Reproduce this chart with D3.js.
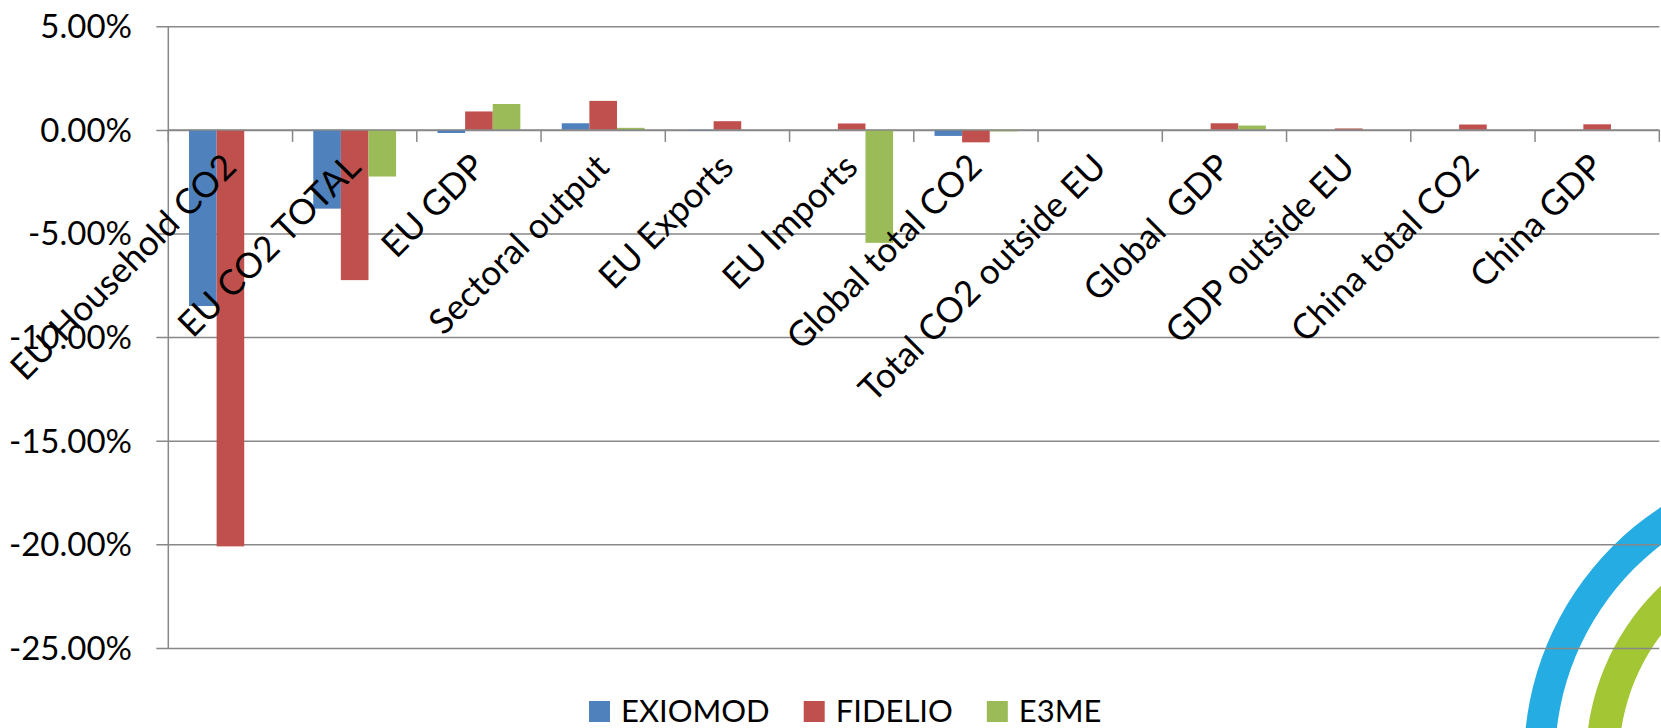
<!DOCTYPE html>
<html>
<head>
<meta charset="utf-8">
<script src="https://cdn.jsdelivr.net/npm/d3@7"></script>
<style>
  html, body { margin: 0; padding: 0; background: #fff; }
  svg { display: block; }
  text { font-family: Lato, "Open Sans", sans-serif; fill: #000; }
</style>
</head>
<body>
<svg id="chart" width="1661" height="728"></svg>
<script>
// Percentage change by indicator for each model
const categories = [
  "EU Household CO2", "EU CO2 TOTAL", "EU GDP", "Sectoral output",
  "EU Exports", "EU Imports", "Global total CO2", "Total CO2 outside EU",
  "Global  GDP", "GDP outside EU", "China total CO2", "China GDP"
];
const seriesNames = ["EXIOMOD", "FIDELIO", "E3ME"];
const exiomod = [-8.5, -3.8, -0.15, 0.32, -0.05, 0, -0.29, 0, 0, 0, 0, 0];
const fidelio = [-20.1, -7.25, 0.89, 1.4, 0.42, 0.31, -0.6, 0, 0.32, 0.07, 0.26, 0.27];
const e3me    = [0, -2.25, 1.25, 0.1, 0, -5.45, -0.07, 0, 0.21, 0, 0, 0];
const yTicks = [5, 0, -5, -10, -15, -20, -25];
const seriesColors = ["#4F81BD", "#C0504D", "#9BBB59"];

const seriesValues = [exiomod, fidelio, e3me];

const svg = d3.select("#chart");
const plotLeft = 168.3, plotRight = 1659.3, plotTop = 26.3, plotBottom = 647.9;
const gridColor = "#888888";

// Decorative concentric arcs in the lower-right corner
const deco = svg.append("g").attr("transform", "translate(1826,760)");
deco.append("path")
  .attr("d", d3.arc()({innerRadius: 271, outerRadius: 302, startAngle: 0, endAngle: 2 * Math.PI}))
  .attr("fill", "#25ACE2");
deco.append("path")
  .attr("d", d3.arc()({innerRadius: 207, outerRadius: 240, startAngle: 0, endAngle: 2 * Math.PI}))
  .attr("fill", "#A2C634");

const x = d3.scaleBand().domain(categories).range([plotLeft, plotRight]).paddingInner(0).paddingOuter(0);
const xs = d3.scaleBand().domain(seriesNames).range([0, x.bandwidth()]).paddingInner(0).paddingOuter(0.75);
const y = d3.scaleLinear().domain([-25, 5]).range([plotBottom, plotTop]);

// Horizontal gridlines, extended left past the axis as outward ticks
const gy = svg.append("g").attr("transform", `translate(${plotRight},0)`);
gy.call(d3.axisLeft(y).tickValues(yTicks).tickSize(plotRight - plotLeft + 12).tickFormat(""));
gy.select(".domain").remove();
gy.selectAll(".tick line").attr("stroke", gridColor).attr("stroke-width", 1.5);

// Bars
const groups = svg.append("g").selectAll("g")
  .data(categories)
  .join("g")
  .attr("transform", d => `translate(${x(d)},0)`);
groups.selectAll("rect")
  .data((d, i) => seriesNames.map((s, k) => ({s, v: seriesValues[k][i], k})))
  .join("rect")
  .attr("x", d => xs(d.s))
  .attr("width", xs.bandwidth())
  .attr("y", d => y(Math.max(0, d.v)))
  .attr("height", d => Math.abs(y(d.v) - y(0)))
  .attr("fill", d => seriesColors[d.k]);

// Vertical value axis
svg.append("line")
  .attr("x1", plotLeft).attr("x2", plotLeft).attr("y1", plotTop).attr("y2", plotBottom)
  .attr("stroke", gridColor).attr("stroke-width", 1.5);

// Category axis crossing at zero, with ticks between categories
const edges = categories.map(c => x(c)).concat([plotRight]);
svg.append("line")
  .attr("x1", plotLeft).attr("x2", plotRight).attr("y1", y(0)).attr("y2", y(0))
  .attr("stroke", gridColor).attr("stroke-width", 1.5);
svg.append("g").selectAll("line")
  .data(edges)
  .join("line")
  .attr("x1", d => d).attr("x2", d => d)
  .attr("y1", y(0)).attr("y2", y(0) + 12)
  .attr("stroke", gridColor).attr("stroke-width", 1.5);

// Value tick labels
svg.append("g").selectAll("text")
  .data(yTicks)
  .join("text")
  .attr("x", 132)
  .attr("y", d => y(d))
  .attr("dy", "0.36em")
  .attr("text-anchor", "end")
  .attr("font-size", 33)
  .text(d => d.toFixed(2) + "%");

// Rotated category labels
svg.append("g").selectAll("text")
  .data(categories)
  .join("text")
  .attr("transform", d => `translate(${x(d) + x.bandwidth() / 2 + 8},169) rotate(-45)`)
  .attr("text-anchor", "end")
  .attr("font-size", 35)
  .style("white-space", "pre")
  .text(d => d);

// Legend
const legend = svg.append("g");
let lx = 589;
seriesNames.forEach((s, k) => {
  legend.append("rect")
    .attr("x", lx).attr("y", 701).attr("width", 21).attr("height", 21)
    .attr("fill", seriesColors[k]);
  const t = legend.append("text")
    .attr("x", lx + 32).attr("y", 722)
    .attr("font-size", 31)
    .text(s);
  lx += 32 + t.node().getComputedTextLength() + 34;
});
</script>
</body>
</html>
